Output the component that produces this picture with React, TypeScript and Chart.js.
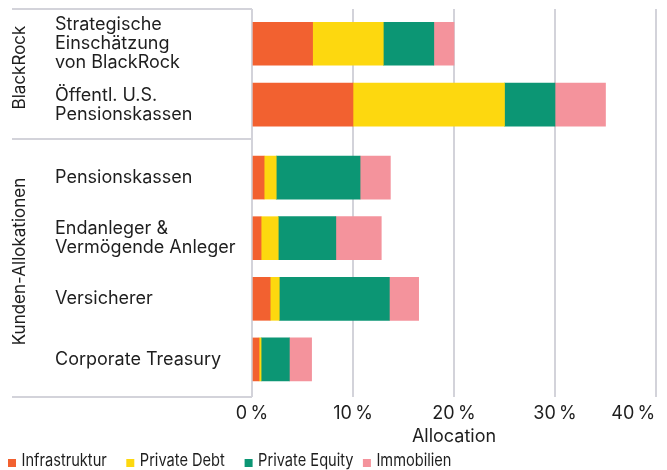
import React, { useEffect, useRef } from "react";
import { Chart, registerables } from "chart.js";

Chart.register(...registerables);

const FONT = "Inter";
const LABEL_SIZE = 18;
const GROUP_SIZE = 17;
const LEGEND_SIZE = 17;
const TEXT = "#1e1e1e";
const GRID = "#d3d3da";

// ---------- data ----------
const groupTop = "BlackRock";
const groupBottom = "Kunden-Allokationen";
const categoriesTop = [
  ["Strategische", "Einschätzung", "von BlackRock"],
  ["Öffentl. U.S.", "Pensionskassen"],
];
const categoriesBottom = [
  ["Pensionskassen"],
  ["Endanleger &", "Vermögende Anleger"],
  ["Versicherer"],
  ["Corporate Treasury"],
];
const seriesNames = ["Infrastruktur", "Private Debt", "Private Equity", "Immobilien"];
const seriesColors = ["#F26130", "#FDD80F", "#0C9674", "#F4939C"];

const infrastrukturTop = [6, 10];
const privateDebtTop = [7, 15];
const privateEquityTop = [5, 5];
const immobilienTop = [2, 5];

const infrastrukturBottom = [1.2, 0.9, 1.8, 0.7];
const privateDebtBottom = [1.2, 1.7, 0.9, 0.2];
const privateEquityBottom = [8.3, 5.7, 10.9, 2.8];
const immobilienBottom = [3.0, 4.5, 2.9, 2.2];

const xTickValues = [0, 10, 20, 30, 40];
const xTitle = "Allocation";

// ---------- helpers ----------
const measureCanvas = typeof document !== "undefined" ? document.createElement("canvas") : null;
function padRight(label: string, font: string) {
  const ctx = measureCanvas!.getContext("2d")!;
  ctx.font = font;
  const w = ctx.measureText(label).width;
  const sp = ctx.measureText(" ").width;
  const n = Math.max(0, Math.round((w + 2) / sp));
  return label + " ".repeat(n);
}

function makeDatasets(values: number[][]) {
  return seriesNames.map((name, s) => ({
    label: name,
    backgroundColor: seriesColors[s],
    borderWidth: 0,
    barThickness: 43,
    data: values[s].map((v, i) => ({ x: v, y: i })),
  }));
}

function facetPlugin(groupLabel: string, isTop: boolean, drawLegend: boolean) {
  return {
    id: "facet" + (isTop ? "Top" : "Bottom"),
    afterLayout(chart: any) {
      chart.scales.y.left = 55;
    },
    afterDraw(chart: any) {
      const { ctx, chartArea } = chart;
      ctx.save();
      ctx.strokeStyle = GRID;
      ctx.lineWidth = 2;
      ctx.beginPath();
      if (isTop) {
        ctx.moveTo(12, chartArea.top);
        ctx.lineTo(chartArea.left, chartArea.top);
        ctx.moveTo(12, chartArea.bottom - 1);
        ctx.lineTo(chartArea.left, chartArea.bottom - 1);
      } else {
        ctx.moveTo(12, chartArea.bottom);
        ctx.lineTo(chartArea.left, chartArea.bottom);
      }
      ctx.stroke();

      ctx.fillStyle = TEXT;
      ctx.font = `${GROUP_SIZE}px ${FONT}`;
      ctx.save();
      ctx.translate(20, (chartArea.top + chartArea.bottom) / 2 - 7);
      ctx.rotate(-Math.PI / 2);
      ctx.textAlign = "center";
      ctx.textBaseline = "middle";
      ctx.fillText(groupLabel, 0, 0);
      ctx.restore();

      if (drawLegend) {
        const colW = 118.3;
        const baseY = chart.height - 4;
        ctx.font = `${LEGEND_SIZE}px ${FONT}`;
        chart.data.datasets.forEach((ds: any, i: number) => {
          const x0 = 8 + i * colW;
          ctx.fillStyle = ds.backgroundColor;
          ctx.fillRect(x0, baseY - 7, 8, 8);
          ctx.fillStyle = TEXT;
          ctx.textAlign = "left";
          ctx.textBaseline = "alphabetic";
          ctx.save();
          ctx.translate(x0 + 13.5, baseY);
          ctx.scale(0.86, 1);
          ctx.fillText(ds.label, 0, 0);
          ctx.restore();
        });
      }
      ctx.restore();
    },
  };
}

function makeConfig(
  categories: string[][],
  values: number[][],
  yMin: number,
  yMax: number,
  groupLabel: string,
  isTop: boolean
): any {
  const tickFont = { family: FONT, size: LABEL_SIZE, lineHeight: 1.06 };
  const fontStr = `${LABEL_SIZE}px ${FONT}`;
  return {
    type: "bar",
    data: { datasets: makeDatasets(values) },
    options: {
      indexAxis: "y",
      animation: false,
      responsive: false,
      layout: { padding: { top: isTop ? 9 : 0, right: 11, bottom: 0, left: 0 } },
      plugins: { legend: { display: false }, tooltip: { enabled: false } },
      scales: {
        x: {
          type: "linear",
          min: xTickValues[0],
          max: xTickValues[xTickValues.length - 1],
          stacked: true,
          afterBuildTicks: (s: any) => {
            s.ticks = xTickValues.map((v) => ({ value: v }));
          },
          ticks: {
            display: !isTop,
            color: TEXT,
            font: { family: FONT, size: LABEL_SIZE, lineHeight: 1.2 },
            padding: 6,
            maxRotation: 0,
            autoSkip: false,
            callback: (v: number) => {
              const label = `${v}\u2009%`;
              return v === xTickValues[xTickValues.length - 1] ? padRight(label, fontStr) : label;
            },
          },
          grid: { color: GRID, lineWidth: 2, drawTicks: false },
          border: { display: false },
          title: {
            display: !isTop,
            text: xTitle,
            color: TEXT,
            font: { family: FONT, size: LABEL_SIZE, lineHeight: 1.2 },
            padding: { top: 0, bottom: 23 },
          },
          afterFit: (s: any) => {
            s.height = isTop ? 0 : 73;
            s.paddingLeft = 0;
            s.paddingRight = 0;
          },
        },
        y: {
          type: "linear",
          reverse: true,
          offset: false,
          min: yMin,
          max: yMax,
          stacked: true,
          afterBuildTicks: (s: any) => {
            s.ticks = categories.map((_, i) => ({ value: i }));
          },
          ticks: {
            color: TEXT,
            font: tickFont,
            crossAlign: "far",
            autoSkip: false,
            callback: (v: number) => categories[v],
          },
          grid: { display: false, offset: false },
          border: { display: false },
          afterFit: (s: any) => {
            s.width = 252;
            s.paddingTop = 0;
            s.paddingBottom = 0;
          },
        },
      },
    },
    plugins: [facetPlugin(groupLabel, isTop, !isTop)],
  };
}

export default function App() {
  const topRef = useRef<HTMLCanvasElement>(null);
  const bottomRef = useRef<HTMLCanvasElement>(null);

  useEffect(() => {
    Chart.defaults.font.family = FONT;
    const top = new Chart(
      topRef.current!,
      makeConfig(
        categoriesTop,
        [infrastrukturTop, privateDebtTop, privateEquityTop, immobilienTop],
        -0.57,
        1.58,
        groupTop,
        true
      )
    );
    const bottom = new Chart(
      bottomRef.current!,
      makeConfig(
        categoriesBottom,
        [infrastrukturBottom, privateDebtBottom, privateEquityBottom, immobilienBottom],
        -0.62,
        3.62,
        groupBottom,
        false
      )
    );
    return () => {
      top.destroy();
      bottom.destroy();
    };
  }, []);

  return (
    <div style={{ position: "fixed", left: 0, top: 0, width: 667, height: 470, background: "#fff" }}>
      <canvas ref={topRef} width={667} height={140} style={{ position: "absolute", left: 0, top: 0 }} />
      <canvas ref={bottomRef} width={667} height={330} style={{ position: "absolute", left: 0, top: 140 }} />
    </div>
  );
}
